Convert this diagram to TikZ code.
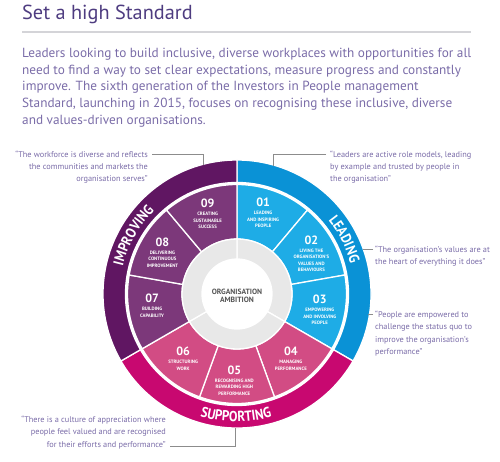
\documentclass[tikz,border=0pt]{standalone}
\usepackage{fontspec}
\setmainfont{PT Sans}
\newfontfamily\ringfont[FakeStretch=0.88]{PT Sans}
\usetikzlibrary{positioning, decorations.text}

\definecolor{ipTitle}{RGB}{78,60,128}
\definecolor{ipText}{RGB}{122,108,168}
\definecolor{ipRule}{RGB}{212,212,216}
\definecolor{leadRing}{RGB}{10,146,214}
\definecolor{leadSeg}{RGB}{30,172,230}
\definecolor{suppRing}{RGB}{200,8,112}
\definecolor{suppSeg}{RGB}{210,76,132}
\definecolor{impRing}{RGB}{96,22,98}
\definecolor{impSeg}{RGB}{124,56,122}
\definecolor{hubGray}{RGB}{232,232,232}
\definecolor{hubText}{RGB}{85,85,85}
\definecolor{pinGray}{RGB}{140,140,140}

\begin{document}
\begin{tikzpicture}[x=1pt, y=1pt,
    quote/.style={inner sep=0pt, text=ipText, font=\fontsize{8.3}{12.2}\selectfont},
    segnum/.style={inner sep=0pt, text=white, font=\fontsize{12}{12}\selectfont\bfseries},
    seglabel/.style={inner sep=0pt, text=white, align=center, font=\fontsize{4.8}{6.5}\selectfont\bfseries},
    wedge/.style={draw=white, line width=1.3pt},
    pinline/.style={draw=pinGray, line width=0.6pt},
    ringtext/.style={decorate, decoration={text along path, text align=center, text color=white}}]
  \useasboundingbox (0,0) rectangle (500,-462);

  \node[anchor=base west, inner sep=0pt, text=ipTitle, font=\fontsize{20.3}{21}\selectfont] (title) at (22,-19.5) {Set a high Standard};
  \draw[ipRule, line width=1.2pt] (22,-32) -- (471,-32);
  \node[anchor=north west, inner sep=0pt, align=left, text=ipText, font=\fontsize{13.25}{16.7}\selectfont] (intro) at (22,-48) {Leaders looking to build inclusive, diverse workplaces with opportunities for all\\need to find a way to set clear expectations, measure progress and constantly\\improve. The sixth generation of the Investors in People management\\Standard, launching in 2015, focuses on recognising these inclusive, diverse\\and values-driven organisations.};

  \begin{scope}[shift={(237,-294)}]
    \path[wedge, fill=leadRing] (90:111.5) arc[start angle=90, end angle=-30, radius=111.5] -- (-30:134) arc[start angle=-30, end angle=90, radius=134] -- cycle;
    \path[wedge, fill=suppRing] (-30:111.5) arc[start angle=-30, end angle=-150, radius=111.5] -- (-150:134) arc[start angle=-150, end angle=-30, radius=134] -- cycle;
    \path[wedge, fill=impRing] (210:111.5) arc[start angle=210, end angle=90, radius=111.5] -- (90:134) arc[start angle=90, end angle=210, radius=134] -- cycle;

    \path[wedge, fill=leadSeg] (90:55) arc[start angle=90, end angle=50, radius=55] -- (50:109.5) arc[start angle=50, end angle=90, radius=109.5] -- cycle;
    \path[wedge, fill=leadSeg] (50:55) arc[start angle=50, end angle=10, radius=55] -- (10:109.5) arc[start angle=10, end angle=50, radius=109.5] -- cycle;
    \path[wedge, fill=leadSeg] (10:55) arc[start angle=10, end angle=-30, radius=55] -- (-30:109.5) arc[start angle=-30, end angle=10, radius=109.5] -- cycle;
    \path[wedge, fill=suppSeg] (-30:55) arc[start angle=-30, end angle=-70, radius=55] -- (-70:109.5) arc[start angle=-70, end angle=-30, radius=109.5] -- cycle;
    \path[wedge, fill=suppSeg] (-70:55) arc[start angle=-70, end angle=-110, radius=55] -- (-110:109.5) arc[start angle=-110, end angle=-70, radius=109.5] -- cycle;
    \path[wedge, fill=suppSeg] (-110:55) arc[start angle=-110, end angle=-150, radius=55] -- (-150:109.5) arc[start angle=-150, end angle=-110, radius=109.5] -- cycle;
    \path[wedge, fill=impSeg] (210:55) arc[start angle=210, end angle=170, radius=55] -- (170:109.5) arc[start angle=170, end angle=210, radius=109.5] -- cycle;
    \path[wedge, fill=impSeg] (170:55) arc[start angle=170, end angle=130, radius=55] -- (130:109.5) arc[start angle=130, end angle=170, radius=109.5] -- cycle;
    \path[wedge, fill=impSeg] (130:55) arc[start angle=130, end angle=90, radius=55] -- (90:109.5) arc[start angle=90, end angle=130, radius=109.5] -- cycle;

    \path[wedge, fill=hubGray] (90:35) arc[start angle=90, end angle=-30, radius=35] -- (-30:55) arc[start angle=-30, end angle=90, radius=55] -- cycle;
    \path[wedge, fill=hubGray] (-30:35) arc[start angle=-30, end angle=-150, radius=35] -- (-150:55) arc[start angle=-150, end angle=-30, radius=55] -- cycle;
    \path[wedge, fill=hubGray] (210:35) arc[start angle=210, end angle=90, radius=35] -- (90:55) arc[start angle=90, end angle=210, radius=55] -- cycle;
    \fill[white] (0,0) circle[radius=35];

    \path[ringtext, decoration={text={|\ringfont\fontsize{14.5}{14.5}\selectfont\bfseries|LEADING}}] (52:117.4) arc[start angle=52, end angle=2, radius=117.4];
    \path[ringtext, decoration={text={|\ringfont\fontsize{14.5}{14.5}\selectfont\bfseries|IMPROVING}}] (176:117.4) arc[start angle=176, end angle=125, radius=117.4];
    \path[ringtext, decoration={text={|\ringfont\fontsize{14.5}{14.5}\selectfont\bfseries|SUPPORTING}}] (-128:127.6) arc[start angle=-128, end angle=-53, radius=127.6];

    \node[font=\fontsize{7.6}{8.6}\selectfont\bfseries, text=hubText, align=center, inner sep=0pt] (ambition) at (0,-2) {ORGANISATION\\AMBITION};

    \node[segnum] (n01) at (74:95) {01};
    \node[seglabel, below=4pt of n01] (t01) {LEADING\\AND INSPIRING\\PEOPLE};
    \node[segnum] (n02) at (36:92) {02};
    \node[seglabel, below=4pt of n02] (t02) {LIVING THE\\ORGANISATION'S\\VALUES AND\\BEHAVIOURS};
    \node[segnum] (n03) at (-4:83) {03};
    \node[seglabel, below=4pt of n03] (t03) {EMPOWERING\\AND INVOLVING\\PEOPLE};
    \node[segnum] (n04) at (-47:79) {04};
    \node[seglabel, below=4pt of n04] (t04) {MANAGING\\PERFORMANCE};
    \node[segnum] (n05) at (-92:76) {05};
    \node[seglabel, below=4pt of n05] (t05) {RECOGNISING AND\\REWARDING HIGH\\PERFORMANCE};
    \node[segnum] (n06) at (227:79) {06};
    \node[seglabel, below=4pt of n06] (t06) {STRUCTURING\\WORK};
    \node[segnum] (n07) at (183:85) {07};
    \node[seglabel, below=4pt of n07] (t07) {BUILDING\\CAPABILITY};
    \node[segnum] (n08) at (145:91) {08};
    \node[seglabel, below=4pt of n08] (t08) {DELIVERING\\CONTINUOUS\\IMPROVEMENT};
    \node[segnum] (n09) at (108:95) {09};
    \node[seglabel, below=4pt of n09] (t09) {CREATING\\SUSTAINABLE\\SUCCESS};
  \end{scope}

  \node[quote, align=right, anchor=north east] (workforce) at (148,-150.5) {“The workforce is diverse and reflects\\the communities and markets the\\organisation serves”};
  \node[quote, align=left, anchor=north west] (leaders) at (330,-150.5) {“Leaders are active role models, leading\\by example and trusted by people in\\the organisation”};
  \node[quote, align=left, anchor=north west] (values) at (375,-246) {“The organisation’s values are at\\the heart of everything it does”};
  \node[quote, align=left, anchor=north west] (empowered) at (375,-311) {“People are empowered to\\challenge the status quo to\\improve the organisation’s\\performance”};
  \node[quote, align=right, anchor=north east] (culture) at (166,-416) {“There is a culture of appreciation where\\people feel valued and are recognised\\for their efforts and performance”};

  \coordinate (pin1) at (203,-165.5);
  \coordinate (pin2) at (273,-166.5);
  \coordinate (pin3) at (362.5,-249.5);
  \coordinate (pin4) at (368,-314.5);
  \coordinate (pin5) at (235,-428);
  \draw[pinline] ([xshift=4pt, yshift=-3.5pt]workforce.north east) -| (pin1);
  \draw[pinline] ([xshift=-4pt, yshift=-3.5pt]leaders.north west) -| (pin2);
  \draw[pinline] ([xshift=-2pt, yshift=-3.5pt]values.north west) -| (pin3);
  \draw[pinline] ([xshift=-2pt, yshift=-3.5pt]empowered.north west) -| (pin4);
  \draw[pinline] ([xshift=4pt, yshift=2.5pt]culture.south east) -| (pin5);
\end{tikzpicture}
\end{document}
